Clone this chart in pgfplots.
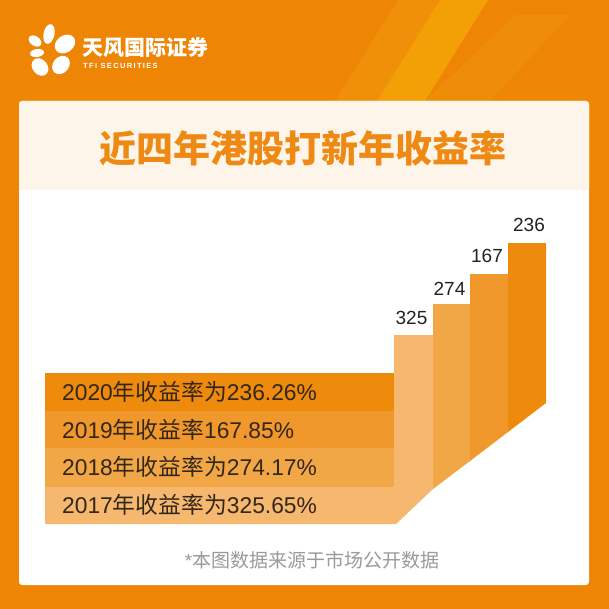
\documentclass[border=0pt]{standalone}
\usepackage{pgfplots}
\pgfplotsset{compat=1.18}
\usepackage{fontspec}
\setmainfont{Liberation Sans}
\newfontfamily\cjk{Noto Sans CJK SC}
\definecolor{bg}{HTML}{EE8504}
\definecolor{stripeA}{HTML}{F08F08}
\definecolor{stripeB}{HTML}{F3A006}
\definecolor{stripeC}{HTML}{EF8C08}
\definecolor{cream}{HTML}{FEF5EA}
\definecolor{titlec}{HTML}{EE8A14}
\definecolor{cA}{HTML}{EE8A0C}
\definecolor{cB}{HTML}{F0982C}
\definecolor{cC}{HTML}{F2A746}
\definecolor{cD}{HTML}{F5B86E}
\definecolor{txt}{HTML}{33261A}
\definecolor{num}{HTML}{222222}
\definecolor{foot}{HTML}{9A9A9A}
\begin{document}
\begin{tikzpicture}
\begin{axis}[width=609pt,height=609pt,scale only axis,
  xmin=0,xmax=609,ymin=0,ymax=609,y dir=reverse,hide axis]
% background
\addplot[fill=bg,draw=none] coordinates {(0,0)(609,0)(609,609)(0,609)} -- cycle;
\addplot[fill=stripeA,draw=none] coordinates {(335,101)(398,0)(440,0)(377,101)} -- cycle;
\addplot[fill=stripeB,draw=none] coordinates {(377,101)(440,0)(488,0)(425,101)} -- cycle;
\addplot[fill=stripeC,draw=none] coordinates {(425,101)(515,15)(570,15)(490,101)} -- cycle;
% card
\addplot[fill=white,draw=none,rounded corners=3pt] coordinates {(19,101)(589,101)(589,585)(19,585)} -- cycle;
\addplot[fill=cream,draw=none,rounded corners=3pt] coordinates {(19,101)(589,101)(589,190)(19,190)} -- cycle;
\addplot[fill=cream,draw=none] coordinates {(19,150)(589,150)(589,190)(19,190)} -- cycle;
% bands and staircase bars
\addplot[fill=cD,draw=none] coordinates {(45,487)(394,487)(394,335)(433,335)(433,489)(396,524)(45,524)} -- cycle;
\addplot[fill=cC,draw=none] coordinates {(45,448)(394,448)(394,487)(45,487)} -- cycle;
\addplot[fill=cB,draw=none] coordinates {(45,411)(394,411)(394,448)(45,448)} -- cycle;
\addplot[fill=cA,draw=none] coordinates {(45,373)(394,373)(394,411)(45,411)} -- cycle;
\addplot[fill=cC,draw=none] coordinates {(433,304)(470,304)(470,461)(433,489)} -- cycle;
\addplot[fill=cB,draw=none] coordinates {(470,274)(508,274)(508,432)(470,461)} -- cycle;
\addplot[fill=cA,draw=none] coordinates {(508,243)(546,243)(546,403)(508,432)} -- cycle;
% logo petals
\fill[white,rotate around={-12:(axis cs:49,34)}] (axis cs:49,34) ellipse [x radius=5.5pt,y radius=10pt];
\fill[white,rotate around={-35:(axis cs:35,41)}] (axis cs:35,41) ellipse [x radius=7pt,y radius=4.8pt];
\fill[white,rotate around={35:(axis cs:65,44)}] (axis cs:65,44) ellipse [x radius=11pt,y radius=8.5pt];
\fill[white,rotate around={8:(axis cs:37,53)}] (axis cs:37,53) ellipse [x radius=7pt,y radius=4pt];
\fill[white,rotate around={-50:(axis cs:40,67)}] (axis cs:40,67) ellipse [x radius=9.5pt,y radius=7.5pt];
\fill[white,rotate around={50:(axis cs:61,65)}] (axis cs:61,65) ellipse [x radius=10pt,y radius=8pt];
\node[anchor=west,inner sep=0,text=white] at (axis cs:82,48) {\fontsize{21}{21}\selectfont\cjk\bfseries 天风国际证券};
\node[anchor=west,inner sep=0,text=white] at (axis cs:83,66) {\fontsize{7.5}{8}\selectfont\bfseries\addfontfeature{LetterSpace=18}TFI SECURITIES};
% title
\node[inner sep=0,text=titlec] at (axis cs:302.5,148) {\fontsize{37}{37}\selectfont\cjk\bfseries 近四年港股打新年收益率};
% bar labels
\node[anchor=base,inner sep=0,text=num] at (axis cs:411.5,324) {\fontsize{19}{19}\selectfont 325};
\node[anchor=base,inner sep=0,text=num] at (axis cs:449.5,295) {\fontsize{19}{19}\selectfont 274};
\node[anchor=base,inner sep=0,text=num] at (axis cs:487,262) {\fontsize{19}{19}\selectfont 167};
\node[anchor=base,inner sep=0,text=num] at (axis cs:529,232) {\fontsize{19}{19}\selectfont 236};
% band labels
\node[anchor=base west,inner sep=0,text=txt] at (axis cs:62,400) {\fontsize{22.8}{23}\selectfont 2020{\cjk 年收益率为}236.26\%};
\node[anchor=base west,inner sep=0,text=txt] at (axis cs:62,438) {\fontsize{22.8}{23}\selectfont 2019{\cjk 年收益率}167.85\%};
\node[anchor=base west,inner sep=0,text=txt] at (axis cs:62,475) {\fontsize{22.8}{23}\selectfont 2018{\cjk 年收益率为}274.17\%};
\node[anchor=base west,inner sep=0,text=txt] at (axis cs:62,513) {\fontsize{22.8}{23}\selectfont 2017{\cjk 年收益率为}325.65\%};
% footer
\node[inner sep=0,text=foot] at (axis cs:312,560) {\fontsize{19}{19}\selectfont *{\cjk 本图数据来源于市场公开数据}};
\end{axis}
\end{tikzpicture}
\end{document}
